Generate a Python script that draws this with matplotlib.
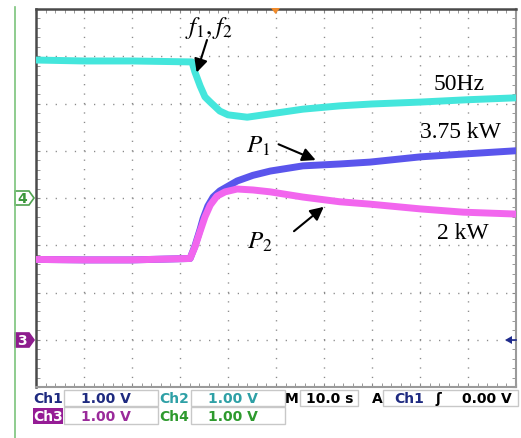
import numpy as np
import matplotlib.pyplot as plt
from matplotlib.patches import Rectangle, Polygon

plt.rcParams['mathtext.fontset'] = 'stix'

# traces, in divisions (x: 0..10, y: -4..4)
f_t = [0, 1.0, 2.0, 3.25, 3.31, 3.42, 3.52, 3.63, 3.83, 4.0, 4.4, 4.88, 5.56, 6.33, 7.0, 8.0, 9.0, 10.0]
f_v = [2.92, 2.90, 2.90, 2.88, 2.67, 2.37, 2.14, 2.03, 1.84, 1.76, 1.71, 1.78, 1.88, 1.95, 1.99, 2.03, 2.08, 2.12]

p1_t = [0, 1.0, 2.0, 3.21, 3.31, 3.42, 3.48, 3.58, 3.69, 3.83, 4.19, 4.52, 4.88, 5.56, 6.33, 6.96, 8.0, 8.9, 10.0]
p1_v = [-1.30, -1.31, -1.31, -1.28, -1.02, -0.66, -0.44, -0.17, 0.02, 0.15, 0.36, 0.48, 0.57, 0.68, 0.72, 0.76, 0.87, 0.93, 1.0]

p2_t = [0, 1.0, 2.0, 3.21, 3.31, 3.42, 3.52, 3.63, 3.77, 3.94, 4.19, 4.52, 4.88, 5.56, 6.33, 6.96, 8.0, 8.9, 10.0]
p2_v = [-1.30, -1.31, -1.31, -1.28, -1.04, -0.70, -0.40, -0.15, 0.04, 0.13, 0.19, 0.17, 0.13, 0.02, -0.08, -0.13, -0.23, -0.30, -0.34]

W, H = 521, 439
fig = plt.figure(figsize=(W/100, H/100), dpi=100)

# screen area in pixels
x0, x1, y0, y1 = 36, 516, 10, 388
ax = fig.add_axes([x0/W, 1-y1/H, (x1-x0)/W, (y1-y0)/H])
ax.set_xlim(0, 10)
ax.set_ylim(-4, 4)

# dotted graticule
for gx in range(1, 10):
    ax.axvline(gx, color='#8a8a8a', lw=1.0, dashes=(0.9, 5.9), zorder=1)
for gy in range(-3, 4):
    ax.axhline(gy, color='#8a8a8a', lw=1.0, dashes=(0.9, 6.0), zorder=1)

ax.set_xticks(np.arange(0, 11, 1))
ax.set_yticks(np.arange(-4, 5, 1))
ax.set_xticks(np.arange(0, 10.01, 0.2), minor=True)
ax.set_yticks(np.arange(-4, 4.01, 0.2), minor=True)
ax.tick_params(which='both', direction='in', length=3, color='#888888',
               top=True, right=True, labelbottom=False, labelleft=False)
for s in ['left', 'top']:
    ax.spines[s].set_color('#4a4a4a')
    ax.spines[s].set_linewidth(1.8)
for s in ['right', 'bottom']:
    ax.spines[s].set_color('#9a9a9a')
    ax.spines[s].set_linewidth(1.5)

ax.plot(f_t, f_v, color='#44E6DC', lw=5, zorder=3)
ax.plot(p1_t, p1_v, color='#5A55EC', lw=5, zorder=4)
ax.plot(p2_t, p2_v, color='#F266EE', lw=5, zorder=5)

serif = 'Liberation Serif'
ax.text(3.6, 3.62, r'$f_{\mathit{1}},f_{\mathit{2}}$', fontsize=18, ha='center', va='center', zorder=6)
ax.annotate('', xy=(3.33, 2.60), xytext=(3.58, 3.40),
            arrowprops=dict(arrowstyle='-|>', color='k', lw=1.5, mutation_scale=20), zorder=6)
ax.text(8.81, 2.43, '50Hz', fontsize=17, family=serif, ha='center', va='center', zorder=6)
ax.text(8.85, 1.40, '3.75 kW', fontsize=17, family=serif, ha='center', va='center', zorder=6)
ax.text(4.63, 1.12, r'$P_{\mathit{1}}$', fontsize=18, ha='center', va='center', zorder=6)
ax.annotate('', xy=(5.88, 0.78), xytext=(5.0, 1.16),
            arrowprops=dict(arrowstyle='-|>', color='k', lw=1.5, mutation_scale=20), zorder=6)
ax.text(4.67, -0.90, r'$P_{\mathit{2}}$', fontsize=18, ha='center', va='center', zorder=6)
ax.annotate('', xy=(6.04, -0.15), xytext=(5.33, -0.74),
            arrowprops=dict(arrowstyle='-|>', color='k', lw=1.5, mutation_scale=20), zorder=6)
ax.text(8.9, -0.72, '2 kW', fontsize=17, family=serif, ha='center', va='center', zorder=6)

# overlay in pixel coordinates for the scope furniture
ov = fig.add_axes([0, 0, 1, 1], facecolor='none')
ov.set_xlim(0, W)
ov.set_ylim(H, 0)
ov.axis('off')

ov.plot([15, 15], [8, H], color='#7CC47C', lw=1.2)
ov.add_patch(Polygon([(15, 192), (29, 192), (34, 199), (29, 206), (15, 206)],
                     closed=True, fc='white', ec='#4FA24F', lw=1.2))
ov.text(22, 199.5, '4', color='#3A963A', fontsize=10, fontweight='bold', ha='center', va='center')
ov.add_patch(Polygon([(15, 334), (29, 334), (34, 341), (29, 348), (15, 348)],
                     closed=True, fc='#8E1C8E', ec='#8E1C8E', lw=1.2))
ov.text(22, 341.5, '3', color='white', fontsize=10, fontweight='bold', ha='center', va='center')
ov.add_patch(Polygon([(271, 9), (280, 9), (275.5, 15)], closed=True, fc='#F08A2A', ec='none'))
ov.add_patch(Polygon([(505, 341), (512, 337), (512, 345)], closed=True, fc='#1E2A8C', ec='none'))
ov.plot([510, 516], [341, 341], color='#1E2A8C', lw=1.2)

# status bar
for bx, by, bw, bh in [(64, 391, 94, 16), (191, 391, 94, 16), (300, 391, 58, 16),
                       (383, 391, 135, 16), (64, 408, 94, 17), (191, 408, 94, 17)]:
    ov.add_patch(Rectangle((bx, by), bw, bh, fc='white', ec='#c8c8c8', lw=1))
ov.add_patch(Rectangle((33, 409), 30, 16, fc='#951C95', ec='none'))

navy, teal, purple, green = '#1E2A80', '#2EA0A6', '#9A2A9A', '#2E9A2E'
bar = [('Ch1', 48, 399, navy), ('1.00 V', 106, 399, navy),
       ('Ch2', 174, 399, teal), ('1.00 V', 233, 399, teal),
       ('M', 292, 399, 'black'), ('10.0 s', 330, 399, 'black'),
       ('A', 377, 399, 'black'), ('Ch1', 409, 399, navy),
       ('ʃ', 438, 399, 'black'), ('0.00 V', 487, 399, 'black'),
       ('Ch3', 48, 417, 'white'), ('1.00 V', 106, 417, purple),
       ('Ch4', 174, 417, green), ('1.00 V', 233, 417, green)]
for txt, tx, ty, c in bar:
    ov.text(tx, ty, txt, color=c, fontsize=10, fontweight='bold', ha='center', va='center')

fig.savefig('out.png', dpi=100)
